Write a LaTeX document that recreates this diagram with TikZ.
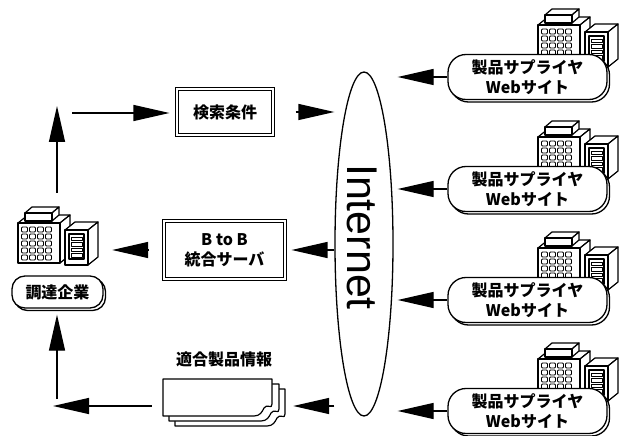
\documentclass[tikz,border=0pt]{standalone}
\usepackage{fontspec}
\usetikzlibrary{arrows.meta,shapes.geometric,shadows,calc}
\newfontfamily\jpfont{Noto Sans CJK JP}
\newfontfamily\inetfont{Liberation Sans}

% isometric server icon, local units: 1pt, y pointing down
\newcommand{\pcicon}[1]{%
\begin{scope}[shift={(#1)}, line width=1.2pt, line join=round]
  % tower
  \filldraw[fill=white] (3,18) -- (13,10) -- (55,10) -- (45,18) -- cycle;
  \filldraw[fill=white] (45,18) -- (55,10) -- (55,50) -- (45,58) -- cycle;
  \filldraw[fill=white] (3,18) rectangle (45,58);
  \foreach \cx in {0,...,3}
    \foreach \cy in {0,...,4}
      \draw[line width=0.9pt, rounded corners=1pt] (6.5+8*\cx,22+7*\cy) rectangle ++(6,5);
  % unit on top of the tower
  \filldraw[fill=white] (10,8) -- (17,2) -- (44,2) -- (37,8) -- cycle;
  \filldraw[fill=white] (37,8) -- (44,2) -- (44,10) -- (37,16) -- cycle;
  \filldraw[fill=white] (10,8) rectangle (37,16);
  % cabinet beside the tower
  \filldraw[fill=white] (50,25) -- (60,17) -- (83,17) -- (73,25) -- cycle;
  \filldraw[fill=white] (73,25) -- (83,17) -- (83,52) -- (73,60) -- cycle;
  \filldraw[fill=white] (50,25) rectangle (73,60);
  \draw (54,29) rectangle (69,54);
  \foreach \k in {0,...,3}
    \draw[line width=0.9pt] (56,32+5.5*\k) rectangle ++(11,3.5);
\end{scope}}

% one sheet of the document stack, with a curled lower right corner
\newcommand{\docpage}[4]{%
  \filldraw[fill=white, line width=1.2pt, line join=round]
    (#1,#2) -- (#3,#2) -- (#3,#4-12)
    .. controls (#3,#4-6) and (#3-5,#4-13) .. (#3-8,#4-8)
    .. controls (#3-10,#4-4) and (#3-12,#4) .. (#3-18,#4)
    -- (#1,#4) -- cycle;}

\begin{document}
\begin{tikzpicture}[x=1pt, y=-1pt,
  jp/.style={font=\jpfont\bfseries\fontsize{16}{20}\selectfont, align=center},
  arr/.style={line width=1.3pt, -{Triangle[length=36pt,width=16pt]}},
  pill/.style={jp, draw, fill=white, line width=1.3pt, inner sep=0pt,
    copy shadow={shadow xshift=2.5pt, shadow yshift=-2.5pt}},
  dblbox/.style={jp, draw, double, line width=1.1pt, double distance=2.2pt,
    fill=white, inner sep=0pt},
  hidden/.style={inner sep=0pt, draw=none}]
\useasboundingbox (0,0) rectangle (625,436);

% buyer side
\pcicon{15,205}
\node[hidden, minimum width=82pt, minimum height=58pt] (buyer) at (56,235) {};
\node[pill, rounded corners=13pt, minimum width=91pt, minimum height=32pt]
  (buyerlbl) at (57.5,292) {調達企業};

% middle column
\node[dblbox, minimum width=96pt, minimum height=46pt] (cond) at (225,112) {検索条件};
\node[dblbox, minimum width=121pt, minimum height=58pt] (btob) at (224.5,250)
  {B to B\\統合サーバ};
\node[jp] (doclbl) at (224,359) {適合製品情報};
\docpage{175}{389}{285}{426}
\docpage{169}{384}{279}{421}
\docpage{163}{379}{272}{416}
\node[hidden, minimum width=122pt, minimum height=40pt] (doc) at (224,406) {};

% the Internet
\node[draw, ellipse, line width=1.3pt, minimum width=58pt, minimum height=344pt,
  inner sep=0pt] (inet) at (364,244) {};
\node[rotate=-90, font=\inetfont\fontsize{43}{43}\selectfont] (inettxt) at (362,237) {Internet};

% supplier web sites
\foreach \i/\yc in {1/77,2/189,3/300,4/411} {
  \pcicon{535,\yc-70}
  \node[pill, rounded corners=18pt, minimum width=159pt, minimum height=45pt]
    (sup\i) at (527.5,\yc) {製品サプライヤ\\Webサイト};
  \draw[arr, shorten >=4pt] (sup\i.west) -- (sup\i.west -| inet.east);
}

% flow on the left
\coordinate (upTip) at (57,106);
\coordinate (reqStart) at (72,113);
\coordinate (leftTip) at (53,406);
\coordinate (upStart) at (57,399);
\draw[arr, shorten <=13pt] (upTip |- buyer.north) -- (upTip);
\draw[arr, shorten >=7pt] (reqStart) -- (reqStart -| cond.west);
\draw[arr, shorten <=22pt] (cond.east) -- (cond.east -| inet.west);
\draw[arr, shorten >=6pt] (btob.east -| inet.west) -- (btob.east);
\draw[arr, shorten <=15pt, shorten >=15pt] (btob.west) -- (btob.west -| buyer.east);
\draw[arr, shorten >=8pt] (doc.east -| inet.west) -- (doc.east);
\draw[arr, shorten <=11pt] (doc.west) -- (leftTip);
\draw[arr, shorten >=6pt] (upStart) -- (upStart |- buyerlbl.south);
\end{tikzpicture}
\end{document}
